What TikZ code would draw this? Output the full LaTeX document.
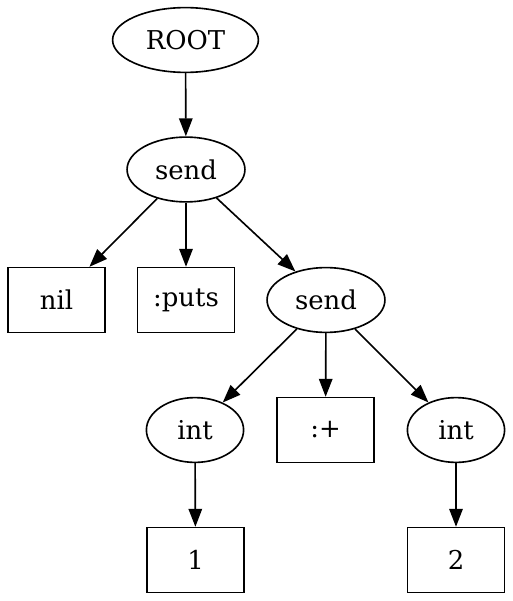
\documentclass[tikz,border=0pt]{standalone}
\usepackage{fontspec}
\setmainfont{DejaVu Serif}
\usetikzlibrary{shapes.geometric, arrows.meta}

\begin{document}
\begin{tikzpicture}[x=0.5556pt, y=-0.5556pt, font=\fontsize{14.4}{16}\selectfont, line width=0.9pt,
  oval/.style={draw, ellipse, inner sep=0pt, minimum width=54pt, minimum height=36pt},
  leaf/.style={draw, rectangle, inner sep=0pt, minimum width=54pt, minimum height=36pt},
  link/.style={-{Triangle[length=10pt, width=7.5pt]}}]
  \useasboundingbox (0, 0) rectangle (512, 601);

  \node[oval, minimum width=81pt] (root) at (185.5, 40) {ROOT};
  \node[oval, minimum width=65.5pt] (send) at (186, 169.5) {send};
  \node[leaf] (nil) at (56.5, 300) {nil};
  \node[leaf] (puts) at (186, 300) {:puts};
  \node[oval, minimum width=65.5pt] (sendb) at (326, 300) {send};
  \node[oval] (inta) at (195, 430) {int};
  \node[leaf] (plus) at (325.5, 430) {:+};
  \node[oval] (intb) at (456, 430) {int};
  \node[leaf] (one) at (195.5, 560) {1};
  \node[leaf] (two) at (456, 560) {2};

  \draw[link] (root) -- (send);
  \draw[link] (send) -- (nil);
  \draw[link] (send) -- (puts);
  \draw[link] (send) -- (sendb);
  \draw[link] (sendb) -- (inta);
  \draw[link] (sendb) -- (plus);
  \draw[link] (sendb) -- (intb);
  \draw[link] (inta) -- (one);
  \draw[link] (intb) -- (two);
\end{tikzpicture}
\end{document}
